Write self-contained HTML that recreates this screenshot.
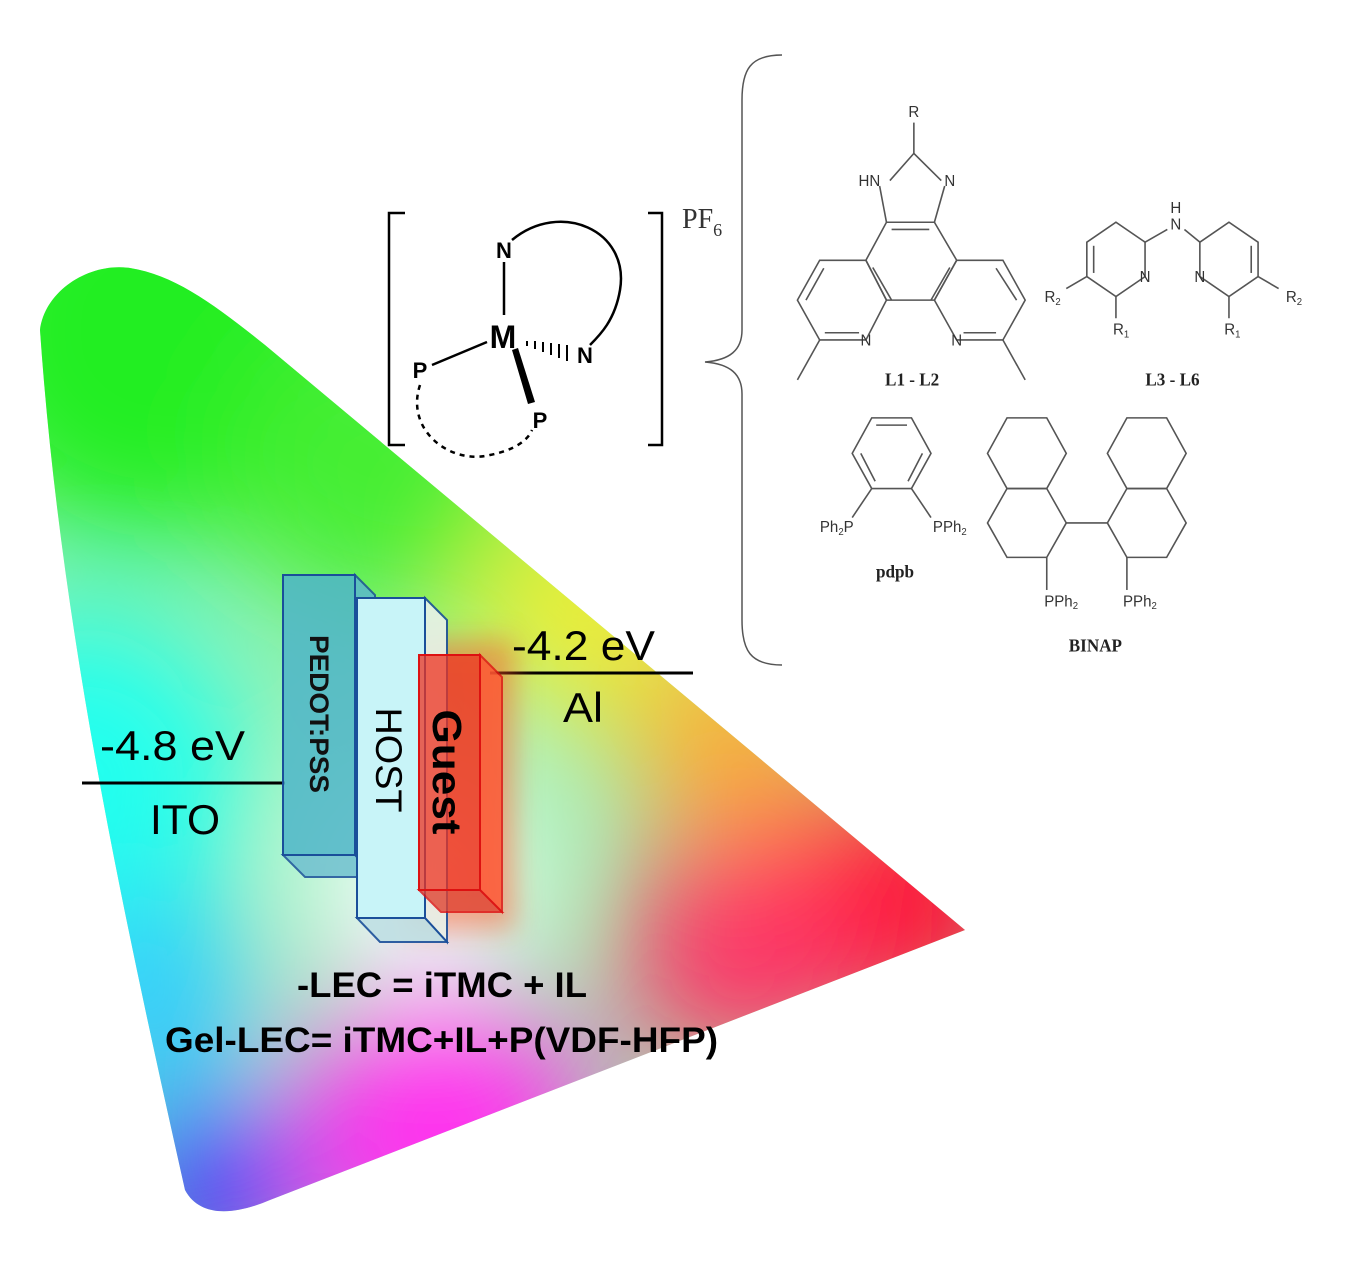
<!DOCTYPE html>
<html><head><meta charset="utf-8"><style>
html,body{margin:0;padding:0;background:#fff;}
svg{display:block;}
</style></head><body>
<svg width="1346" height="1278" viewBox="0 0 1346 1278" xmlns="http://www.w3.org/2000/svg">
<defs>
<clipPath id="cie"><path d="M40,330 C45,290 90,262 130,268 C175,275 215,305 265,345 L965,930 L270,1200 C235,1215 200,1218 185,1190 C120,900 60,620 40,330 Z"/></clipPath>
<filter id="blur" x="-50%" y="-50%" width="200%" height="200%"><feGaussianBlur stdDeviation="60"/></filter>
<filter id="glow" x="-50%" y="-50%" width="200%" height="200%"><feGaussianBlur stdDeviation="14"/></filter>
</defs>
<g clip-path="url(#cie)">
<rect x="0" y="200" width="1000" height="1050" fill="#9ef0b0"/>
<g filter="url(#blur)">
<circle cx="150" cy="330" r="220" fill="#22ee22"/>
<circle cx="380" cy="470" r="150" fill="#44ee33"/>
<circle cx="580" cy="610" r="110" fill="#eeee33"/>
<circle cx="730" cy="740" r="100" fill="#ffaa33"/>
<circle cx="900" cy="900" r="130" fill="#ff1133"/>
<circle cx="740" cy="950" r="120" fill="#ff3366"/>
<circle cx="80" cy="780" r="170" fill="#22ffee"/>
<circle cx="150" cy="1000" r="110" fill="#33ccff"/>
<circle cx="210" cy="1190" r="90" fill="#3322ff"/>
<circle cx="440" cy="1130" r="150" fill="#ff33ee"/>
<circle cx="420" cy="880" r="110" fill="#f4fcff"/>
</g>
</g>
<line x1="82" y1="783" x2="285" y2="783" stroke="#000" stroke-width="3"/>
<line x1="490" y1="673" x2="693" y2="673" stroke="#000" stroke-width="3"/>
<rect x="405" y="640" width="110" height="290" fill="#ff5522" opacity="0.5" filter="url(#glow)"/>
<g stroke="#1a4f9a" stroke-width="2">
<polygon points="355,575 375,595 375,877 355,855" fill="#5bb8cc" opacity="0.85"/>
<polygon points="283,855 355,855 375,877 305,877" fill="#6fc0cf" opacity="0.85"/>
<rect x="283" y="575" width="72" height="280" fill="#4fb5c8" fill-opacity="0.85"/>
</g>
<g stroke="#1a4f9a" stroke-width="2">
<polygon points="425,598 447,620 447,942 425,918" fill="#e8f2ea" opacity="0.9"/>
<polygon points="357,918 425,918 447,942 380,942" fill="#bfe0e4" opacity="0.9"/>
<rect x="357" y="598" width="68" height="320" fill="#c8f4f8"/>
</g>
<g stroke="#dd1111" stroke-width="2">
<polygon points="480,655 502,677 502,912 480,890" fill="#ff5533" opacity="0.8"/>
<polygon points="419,890 480,890 502,912 441,912" fill="#e04433" opacity="0.8"/>
<rect x="419" y="655" width="61" height="235" fill="#ee3322" fill-opacity="0.75"/>
</g>
<g font-family="Liberation Sans, sans-serif" fill="#000">
<text transform="translate(310,714) rotate(90)" text-anchor="middle" font-size="27" font-weight="bold" fill="#111" textLength="158" lengthAdjust="spacingAndGlyphs">PEDOT:PSS</text>
<text transform="translate(376,760) rotate(90)" text-anchor="middle" font-size="37" textLength="105" lengthAdjust="spacingAndGlyphs">HOST</text>
<text transform="translate(433,772) rotate(90)" text-anchor="middle" font-size="41" font-weight="bold" textLength="125" lengthAdjust="spacingAndGlyphs">Guest</text>
<text x="100" y="760" font-size="42" textLength="145" lengthAdjust="spacingAndGlyphs">-4.8 eV</text>
<text x="150" y="834" font-size="42" textLength="70" lengthAdjust="spacingAndGlyphs">ITO</text>
<text x="512" y="660" font-size="42" textLength="143" lengthAdjust="spacingAndGlyphs">-4.2 eV</text>
<text x="563" y="722" font-size="42" textLength="40" lengthAdjust="spacingAndGlyphs">Al</text>
<text x="297" y="997" font-size="35" font-weight="bold" textLength="290" lengthAdjust="spacingAndGlyphs">-LEC = iTMC + IL</text>
<text x="165" y="1052" font-size="35" font-weight="bold" textLength="553" lengthAdjust="spacingAndGlyphs">Gel-LEC= iTMC+IL+P(VDF-HFP)</text>
</g>
<g stroke="#000" fill="none" stroke-width="2.5">
<polyline points="405,213 389,213 389,445 405,445"/>
<polyline points="648,213 662,213 662,445 648,445"/>
<line x1="504" y1="262" x2="504" y2="315"/>
<line x1="487" y1="342" x2="432" y2="365"/>
<path d="M512,240 C560,200 630,230 620,290 C615,320 600,335 590,345"/>
<path d="M420,385 C405,430 450,465 490,455 C515,450 528,440 532,430" stroke-dasharray="5,5"/>
</g>
<g stroke="#000" stroke-width="2">
<line x1="527" y1="341" x2="527" y2="346"/><line x1="535" y1="341" x2="535" y2="349"/><line x1="543" y1="342" x2="543" y2="352"/><line x1="551" y1="343" x2="551" y2="355"/><line x1="559" y1="344" x2="559" y2="358"/><line x1="567" y1="345" x2="567" y2="361"/>
</g>
<polygon points="512,350 518,348 535,402 528,404" fill="#000"/>
<g font-family="Liberation Sans, sans-serif" font-weight="bold" fill="#000">
<text x="504" y="258" text-anchor="middle" font-size="22">N</text>
<text x="503" y="348" text-anchor="middle" font-size="32">M</text>
<text x="585" y="363" text-anchor="middle" font-size="22">N</text>
<text x="420" y="378" text-anchor="middle" font-size="22">P</text>
<text x="540" y="428" text-anchor="middle" font-size="22">P</text>
</g>
<text x="682" y="228" font-family="Liberation Serif, serif" font-size="28" fill="#333">PF<tspan font-size="18" dy="8">6</tspan></text>
<path d="M782,55 C750,55 742,70 742,100 L742,330 C742,350 730,360 705,362 C730,364 742,374 742,394 L742,620 C742,650 750,665 782,665" fill="none" stroke="#555" stroke-width="1.5"/>
<g transform="matrix(0.3425,0,0,0.3623,782,90)" stroke="#555" stroke-width="1.6" fill="none">
<g>
<polygon vector-effect="non-scaling-stroke" points="45,580 110,470 245,470 305,580 245,690 110,690"/>
<polygon vector-effect="non-scaling-stroke" points="245,470 305,365 445,365 510,470 445,580 305,580"/>
<polygon vector-effect="non-scaling-stroke" points="445,580 510,470 645,470 710,580 645,690 510,690"/>
<polyline vector-effect="non-scaling-stroke" points="305,365 285,265"/>
<polyline vector-effect="non-scaling-stroke" points="315,250 385,175 465,250"/>
<polyline vector-effect="non-scaling-stroke" points="475,265 445,365"/>
<line vector-effect="non-scaling-stroke" x1="385" y1="175" x2="385" y2="90"/>
<line vector-effect="non-scaling-stroke" x1="110" y1="690" x2="45" y2="800"/>
<line vector-effect="non-scaling-stroke" x1="645" y1="690" x2="710" y2="800"/>
<line vector-effect="non-scaling-stroke" x1="70" y1="580" x2="122" y2="492"/>
<line vector-effect="non-scaling-stroke" x1="320" y1="385" x2="430" y2="385"/>
<line vector-effect="non-scaling-stroke" x1="625" y1="492" x2="685" y2="580"/>
<line vector-effect="non-scaling-stroke" x1="125" y1="670" x2="225" y2="670"/>
<line vector-effect="non-scaling-stroke" x1="530" y1="670" x2="625" y2="670"/>
<line vector-effect="non-scaling-stroke" x1="265" y1="490" x2="320" y2="580"/>
<line vector-effect="non-scaling-stroke" x1="490" y1="490" x2="435" y2="580"/>
<polygon vector-effect="non-scaling-stroke" points="890,420 975,365 1060,420 1060,515 975,570 890,515"/>
<polygon vector-effect="non-scaling-stroke" points="1220,420 1305,365 1390,420 1390,515 1305,570 1220,515"/>
<line vector-effect="non-scaling-stroke" x1="910" y1="430" x2="910" y2="505"/>
<line vector-effect="non-scaling-stroke" x1="1370" y1="430" x2="1370" y2="505"/>
<line vector-effect="non-scaling-stroke" x1="1060" y1="420" x2="1125" y2="385"/>
<line vector-effect="non-scaling-stroke" x1="1175" y1="385" x2="1220" y2="420"/>
<line vector-effect="non-scaling-stroke" x1="890" y1="515" x2="830" y2="548"/>
<line vector-effect="non-scaling-stroke" x1="975" y1="570" x2="975" y2="630"/>
<line vector-effect="non-scaling-stroke" x1="1390" y1="515" x2="1450" y2="548"/>
<line vector-effect="non-scaling-stroke" x1="1305" y1="570" x2="1305" y2="630"/>
<polygon vector-effect="non-scaling-stroke" points="205,1003 262,905 378,905 435,1003 378,1100 262,1100"/>
<line vector-effect="non-scaling-stroke" x1="275" y1="925" x2="365" y2="925"/>
<line vector-effect="non-scaling-stroke" x1="230" y1="1003" x2="272" y2="1080"/>
<line vector-effect="non-scaling-stroke" x1="410" y1="1003" x2="368" y2="1080"/>
<line vector-effect="non-scaling-stroke" x1="262" y1="1100" x2="205" y2="1180"/>
<line vector-effect="non-scaling-stroke" x1="378" y1="1100" x2="435" y2="1180"/>
<polygon vector-effect="non-scaling-stroke" points="600,1003 657,905 773,905 830,1003 773,1100 657,1100"/>
<polygon vector-effect="non-scaling-stroke" points="657,1100 773,1100 830,1195 773,1290 657,1290 600,1195"/>
<polygon vector-effect="non-scaling-stroke" points="950,1003 1007,905 1123,905 1180,1003 1123,1100 1007,1100"/>
<polygon vector-effect="non-scaling-stroke" points="1007,1100 1123,1100 1180,1195 1123,1290 1007,1290 950,1195"/>
<line vector-effect="non-scaling-stroke" x1="830" y1="1195" x2="950" y2="1195"/>
<line vector-effect="non-scaling-stroke" x1="773" y1="1290" x2="773" y2="1380"/>
<line vector-effect="non-scaling-stroke" x1="1007" y1="1290" x2="1007" y2="1380"/>
</g>
<g stroke="none" fill="#333" font-family="Liberation Sans, sans-serif" font-size="44" text-anchor="middle">
<text x="385" y="75">R</text>
<text x="255" y="265">HN</text>
<text x="490" y="265">N</text>
<text x="245" y="705">N</text>
<text x="510" y="705">N</text>
<text x="1150" y="340">H</text>
<text x="1150" y="385">N</text>
<text x="1060" y="530">N</text>
<text x="1220" y="530">N</text>
<text x="790" y="585">R<tspan font-size="28" dy="8">2</tspan></text>
<text x="990" y="675">R<tspan font-size="28" dy="8">1</tspan></text>
<text x="1495" y="585">R<tspan font-size="28" dy="8">2</tspan></text>
<text x="1315" y="675">R<tspan font-size="28" dy="8">1</tspan></text>
<text x="160" y="1220">Ph<tspan font-size="28" dy="8">2</tspan><tspan dy="-8">P</tspan></text>
<text x="490" y="1220">PPh<tspan font-size="28" dy="8">2</tspan></text>
<text x="815" y="1425">PPh<tspan font-size="28" dy="8">2</tspan></text>
<text x="1045" y="1425">PPh<tspan font-size="28" dy="8">2</tspan></text>
</g>
<g stroke="none" fill="#222" font-family="Liberation Serif, serif" font-weight="bold" font-size="50" text-anchor="middle">
<text x="380" y="815">L1 - L2</text>
<text x="1140" y="815">L3 - L6</text>
<text x="330" y="1345">pdpb</text>
<text x="915" y="1550">BINAP</text>
</g>
</g>
</svg>
</body></html>
